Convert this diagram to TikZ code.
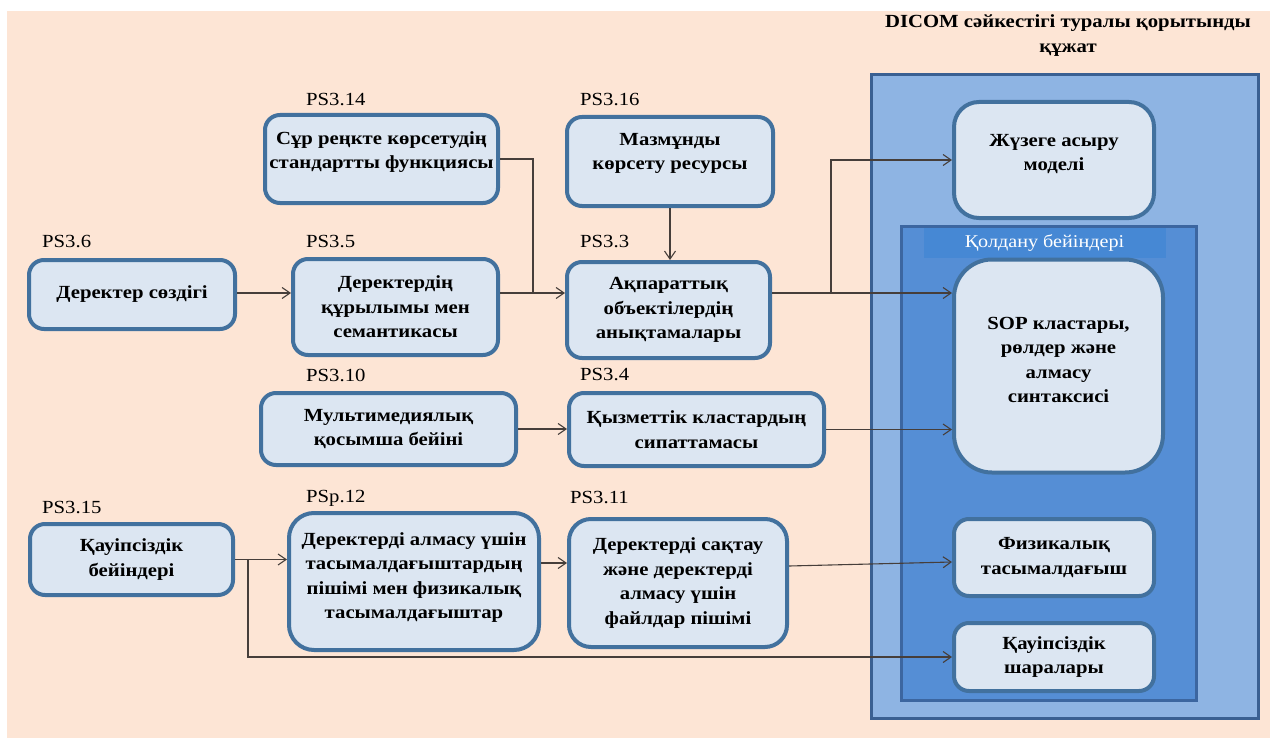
\documentclass[tikz,border=0pt]{standalone}
\usepackage{fontspec}
\setmainfont{Liberation Serif}[FakeStretch=1.12]
\usetikzlibrary{arrows.meta}
\definecolor{peach}{RGB}{253,229,213}
\definecolor{boxfill}{RGB}{220,230,242}
\definecolor{boxline}{RGB}{66,113,158}
\definecolor{outerfill}{RGB}{142,180,227}
\definecolor{outerline}{RGB}{58,96,146}
\definecolor{innerfill}{RGB}{85,142,213}
\definecolor{innerline}{RGB}{60,102,160}
\definecolor{barfill}{RGB}{70,136,212}
\definecolor{linec}{RGB}{70,62,58}
\begin{document}
\begin{tikzpicture}[x=1pt,y=-1pt,
  boxtext/.style={align=center, font=\fontsize{18.5}{24.5}\selectfont\bfseries, inner sep=0pt},
  box/.style={draw=boxline, fill=boxfill, line width=4pt, rounded corners=15pt, boxtext},
  lbl/.style={anchor=west, inner sep=0pt, font=\fontsize{18.5}{22}\selectfont},
  conn/.style={draw=linec, line width=1.1pt},
  arr/.style={conn, -{Straight Barb[length=8pt,width=11pt,line width=1.1pt]}}]
\useasboundingbox (0,0) rectangle (1276,738);
\fill[peach] (7,11) rectangle (1270,738);

% right container
\draw[fill=outerfill, draw=outerline, line width=3pt] (871,75) rectangle (1258,718);
\node[font=\fontsize{18.5}{25}\selectfont\bfseries, align=center, inner sep=0pt] (title) at (1068,36)
  {DICOM сәйкестігі туралы қорытынды\\құжат};
\draw[fill=innerfill, draw=innerline, line width=3pt] (901,226) rectangle (1196,700);
\node[fill=barfill, minimum width=242pt, minimum height=30pt, inner sep=0pt, text=white,
  font=\fontsize{18}{22}\selectfont] (bar) at (1044.5,242.5) {Қолдану бейіндері};

% right boxes
\node[box, rounded corners=25pt, minimum width=200pt, minimum height=116pt,
  label={[boxtext, yshift=6pt]center:{Жүзеге асыру\\моделі}}] (im) at (1054,160) {};
\node[box, rounded corners=38pt, minimum width=209pt, minimum height=213pt,
  label={[boxtext, yshift=6pt]center:{SOP кластары,\\рөлдер және\\алмасу\\синтаксисі}}] (sop) at (1058.5,366) {};
\node[box, minimum width=200pt, minimum height=77pt] (pt) at (1054,557.5) {Физикалық\\тасымалдағыш};
\node[box, minimum width=200pt, minimum height=68pt] (sm) at (1054,657) {Қауіпсіздік\\шаралары};

% left boxes
\node[box, minimum width=206pt, minimum height=69pt] (dict) at (132,294.5) {Деректер сөздігі};
\node[box, minimum width=205pt, minimum height=96pt] (ds) at (395.5,307) {Деректердің\\құрылымы мен\\семантикасы};
\node[box, minimum width=233pt, minimum height=88pt,
  label={[boxtext, yshift=7pt]center:{Сұр реңкте көрсетудің\\стандартты функциясы}}] (gs) at (381.5,159) {};
\node[box, minimum width=206pt, minimum height=89pt,
  label={[boxtext, yshift=8pt]center:{Мазмұнды\\көрсету ресурсы}}] (cr) at (670,161.5) {};
\node[box, minimum width=203pt, minimum height=96pt] (io) at (668.5,310) {Ақпараттық\\объектілердің\\анықтамалары};
\node[box, minimum width=255pt, minimum height=72pt] (mm) at (388.5,429) {Мультимедиялық\\қосымша бейіні};
\node[box, minimum width=255pt, minimum height=73pt] (sc) at (696.5,429.5) {Қызметтік кластардың\\сипаттамасы};
\node[box, minimum width=203pt, minimum height=71pt] (sp) at (131.5,559.5) {Қауіпсіздік\\бейіндері};
\node[box, rounded corners=25pt, minimum width=250pt, minimum height=137pt,
  label={[boxtext, yshift=4pt]center:{Деректерді алмасу үшін\\тасымалдағыштардың\\пішімі мен физикалық\\тасымалдағыштар}}] (tf) at (414,581.5) {};
\node[box, rounded corners=22pt, minimum width=218pt, minimum height=128pt] (ff) at (678,583) {Деректерді сақтау\\және деректерді\\алмасу үшін\\файлдар пішімі};

% labels
\node[lbl] (l36) at (42,242) {PS3.6};
\node[lbl] (l35) at (306,242) {PS3.5};
\node[lbl] (l314) at (306,100) {PS3.14};
\node[lbl] (l316) at (580,100) {PS3.16};
\node[lbl] (l33) at (580,242) {PS3.3};
\node[lbl] (l310) at (306,375) {PS3.10};
\node[lbl] (l34) at (580,375) {PS3.4};
\node[lbl] (l315) at (42,508) {PS3.15};
\node[lbl] (lp12) at (306,498) {PSp.12};
\node[lbl] (l311) at (570,498) {PS3.11};

% connectors
\coordinate (r1) at (0,293);
\coordinate (j1) at (533,293);
\coordinate (j2) at (831,293);
\coordinate (j3) at (248,560);
\coordinate (r4) at (0,563);
\coordinate (r5) at (0,566);
\coordinate (r6) at (0,562);
\draw[arr] (dict.east |- r1) -- (ds.west |- r1);
\draw[arr] (ds.east |- r1) -- (io.west |- r1);
\draw[conn] (gs.east) -| (j1);
\draw[arr] (cr.south) -- (cr.south |- io.north);
\draw[arr] (io.east |- r1) -- (sop.west |- r1);
\draw[arr] (j2) |- (im.west);
\draw[arr] (mm.east) -- (sc.west |- mm.east);
\draw[arr] (sc.east) -- (sop.west |- sc.east);
\draw[arr] (sp.east) -- (tf.west |- sp.east);
\draw[arr] (j3) |- (sm.west);
\draw[arr] (tf.east |- r4) -- (ff.west |- r4);
\draw[arr] (ff.east |- r5) -- (pt.west |- r6);
\end{tikzpicture}
\end{document}
